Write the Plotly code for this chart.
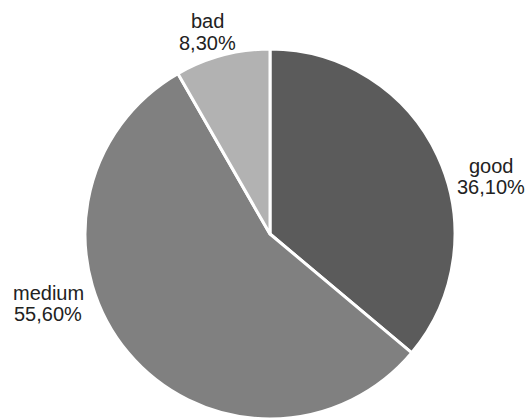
import plotly.graph_objects as go

categories = ["good", "medium", "bad"]
values = [36.1, 55.6, 8.3]
pct_labels = ["36,10%", "55,60%", "8,30%"]

colors = ["#5b5b5b", "#808080", "#b2b2b2"]

W, H = 532, 419
cx, cy, R = 270, 234, 185

# label positions (pixel centre x, name baseline y, pct baseline y)
label_pos = {
    "good": (491, 173, 194),
    "medium": (48, 300, 321),
    "bad": (207, 28, 50),
}
FS = 20

fig = go.Figure(go.Pie(
    labels=categories,
    values=values,
    sort=False,
    direction="clockwise",
    rotation=0,
    marker=dict(colors=colors, line=dict(color="white", width=3)),
    textinfo="none",
    hoverinfo="label+percent",
    showlegend=False,
    domain=dict(x=[(cx - R) / W, (cx + R) / W], y=[(H - cy - R) / H, (H - cy + R) / H]),
))

annotations = []
for cat, pct in zip(categories, pct_labels):
    x, yb1, yb2 = label_pos[cat]
    for txt, yb in ((cat, yb1), (pct, yb2)):
        annotations.append(dict(
            x=x / W, y=1 - (yb - 7) / H, xref="paper", yref="paper",
            text=txt, showarrow=False, xanchor="center", yanchor="middle",
            font=dict(family="Liberation Sans, Arial, sans-serif", size=FS, color="#222222"),
        ))

fig.update_layout(
    width=W, height=H,
    margin=dict(l=0, r=0, t=0, b=0),
    paper_bgcolor="white", plot_bgcolor="white",
    annotations=annotations,
)

fig.write_html("out.html")
